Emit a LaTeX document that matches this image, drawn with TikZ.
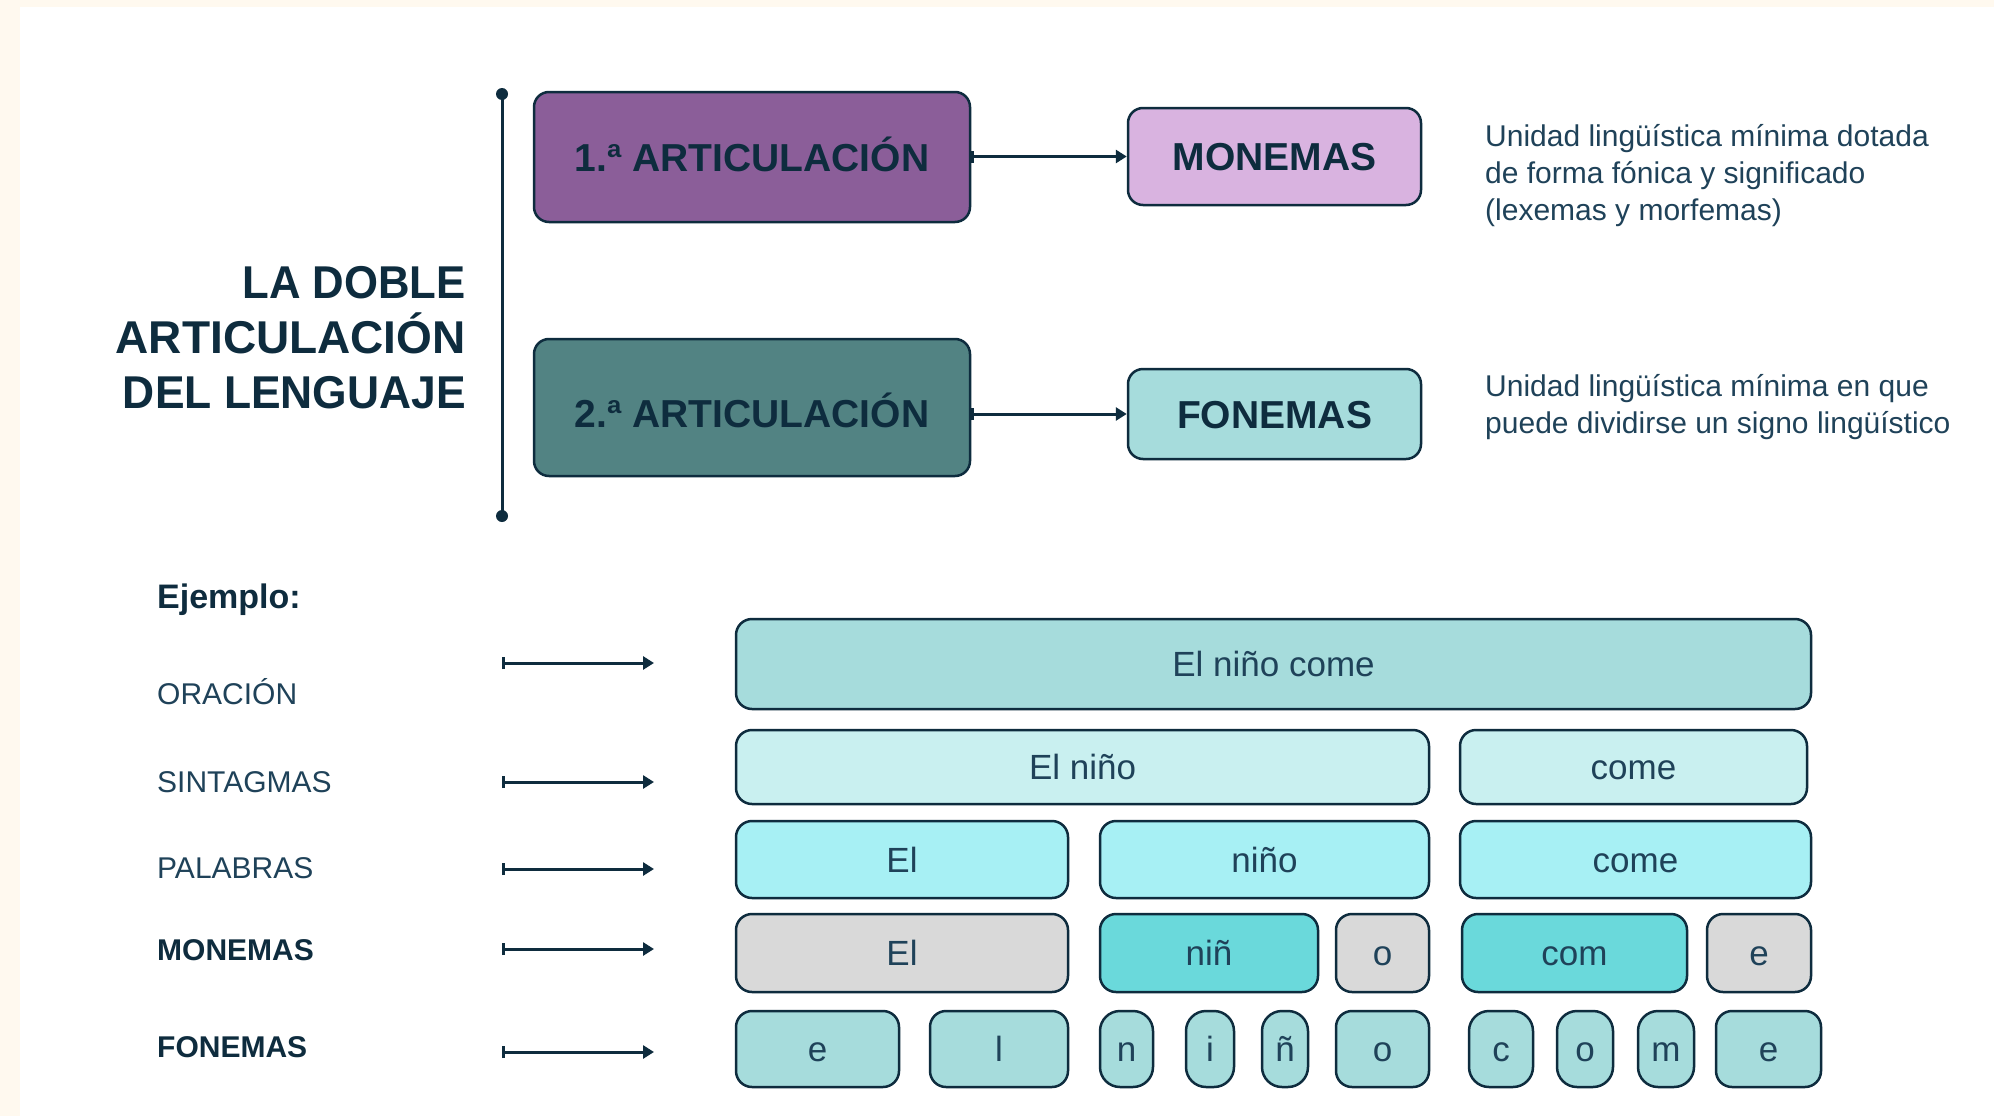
\documentclass[tikz,border=0pt]{standalone}
\usepackage{fontspec}
\usepackage{graphicx}
\setmainfont{Liberation Sans}
\usetikzlibrary{arrows.meta}
\definecolor{cream}{HTML}{FFF9EF}
\definecolor{navy}{HTML}{0E2C3E}
\definecolor{txtc}{HTML}{1F4259}
\definecolor{purp}{HTML}{8B5E99}
\definecolor{lav}{HTML}{D9B3E0}
\definecolor{tealdk}{HTML}{528383}
\definecolor{teallt}{HTML}{A6DCDC}
\definecolor{rowtwo}{HTML}{C9F0F0}
\definecolor{rowthree}{HTML}{A7F0F4}
\definecolor{grayb}{HTML}{D9D9D9}
\definecolor{turq}{HTML}{6AD9DB}
\tikzset{
  blk/.style={draw=navy, line width=2.5pt, rounded corners=16pt, inner sep=0pt,
    text=txtc, font=\fontsize{35}{42}\selectfont, text height=25pt, text depth=0pt},
  head/.style={draw=navy, line width=2.5pt, rounded corners=15pt, inner sep=0pt,
    text=navy, font=\fontsize{39}{46}\bfseries, text height=28pt, text depth=0pt},
  ttl/.style={anchor=base east, inner sep=0pt, text=navy, font=\fontsize{46}{55}\bfseries},
  desc/.style={anchor=base west, inner sep=0pt, text=txtc, font=\fontsize{30}{36}\selectfont},
  lbl/.style={anchor=base west, inner sep=0pt, text=txtc, font=\fontsize{30}{36}\selectfont},
  lblb/.style={lbl, text=navy, font=\fontsize{30}{36}\bfseries},
  conn/.style={draw=navy, line width=3pt, arrows={Bar[width=12pt,line width=2.5pt]-Triangle[length=11pt,width=13pt]}},
}
\begin{document}
\begin{tikzpicture}[x=1pt,y=-1pt]
\useasboundingbox (0,0) rectangle (1994,1116);
\fill[cream] (0,0) rectangle (1994,1116);
\fill[white] (20,7) rectangle (1994,1116);

% title
\node[ttl] (t1) at (466,298) {\scalebox{0.95}[1]{LA DOBLE}};
\node[ttl] (t2) at (466,353) {ARTICULACIÓN};
\node[ttl] (t3) at (466,408) {\scalebox{0.965}[1]{DEL LENGUAJE}};

% vertical bracket
\coordinate (vt) at (502,94);
\coordinate (vb) at (502,516);
\draw[navy, line width=3pt] (vt) -- (vb);
\fill[navy] (vt) circle (6);
\fill[navy] (vb) circle (6);

% heading boxes
\node[head, fill=purp, minimum width=436pt, minimum height=130pt] (A1) at (752,157) {1.ª ARTICULACIÓN};
\node[head, fill=tealdk, minimum width=436pt, minimum height=137pt, text height=40pt] (A2) at (752,407.5) {2.ª ARTICULACIÓN};
\node[head, fill=lav, minimum width=293pt, minimum height=97pt] (M) at (1274.5,156.5) {MONEMAS};
\node[head, fill=teallt, minimum width=293pt, minimum height=90pt] (F) at (1274.5,414) {FONEMAS};

\draw[conn] (A1.east |- M.west) -- (M.west);
\draw[conn] (A2.east |- F.west) -- (F.west);

% descriptions
\node[desc] (d1a) at (1485,146) {Unidad lingüística mínima dotada};
\node[desc] (d1b) at (1485,183) {de forma fónica y significado};
\node[desc] (d1c) at (1485,220) {(lexemas y morfemas)};
\node[desc] (d2a) at (1485,396) {Unidad lingüística mínima en que};
\node[desc] (d2b) at (1485,433) {puede dividirse un signo lingüístico};

% example labels
\node[lblb, font=\fontsize{34}{40}\bfseries] (ej) at (157,608) {Ejemplo:};
\node[lbl] (l1) at (157,704) {ORACIÓN};
\node[lbl] (l2) at (157,792) {SINTAGMAS};
\node[lbl] (l3) at (157,878) {PALABRAS};
\node[lblb] (l4) at (157,960) {MONEMAS};
\node[lblb] (l5) at (157,1057) {FONEMAS};

% left arrows
\foreach \i/\yy in {1/663,2/782,3/869,4/949,5/1052}{
  \coordinate (s\i) at (502,\yy);
  \coordinate (e\i) at (654,\yy);
  \draw[conn] (s\i) -- (e\i);
}

% row 1
\node[blk, fill=teallt, minimum width=1075pt, minimum height=90pt] (r1) at (1273.5,664) {El niño come};
% row 2
\node[blk, fill=rowtwo, minimum width=693pt, minimum height=74pt] (r2a) at (1082.5,767) {El niño};
\node[blk, fill=rowtwo, minimum width=347pt, minimum height=74pt] (r2b) at (1633.5,767) {come};
% row 3
\node[blk, fill=rowthree, minimum width=332pt, minimum height=77pt] (r3a) at (902,859.5) {El};
\node[blk, fill=rowthree, minimum width=329pt, minimum height=77pt] (r3b) at (1264.5,859.5) {niño};
\node[blk, fill=rowthree, minimum width=351pt, minimum height=77pt] (r3c) at (1635.5,859.5) {come};
% row 4
\node[blk, fill=grayb, minimum width=332pt, minimum height=78pt] (r4a) at (902,953) {El};
\node[blk, fill=turq, minimum width=218pt, minimum height=78pt] (r4b) at (1209,953) {niñ};
\node[blk, fill=grayb, minimum width=93pt, minimum height=78pt] (r4c) at (1382.5,953) {o};
\node[blk, fill=turq, minimum width=225pt, minimum height=78pt] (r4d) at (1574.5,953) {com};
\node[blk, fill=grayb, minimum width=104pt, minimum height=78pt] (r4e) at (1759,953) {e};
% row 5
\node[blk, fill=teallt, minimum width=163pt, minimum height=76pt] (r5a) at (817.5,1049) {e};
\node[blk, fill=teallt, minimum width=138pt, minimum height=76pt] (r5b) at (999,1049) {l};
\node[blk, fill=teallt, minimum width=53pt, minimum height=76pt, rounded corners=20pt] (r5c) at (1126.5,1049) {n};
\node[blk, fill=teallt, minimum width=48pt, minimum height=76pt, rounded corners=20pt] (r5d) at (1210,1049) {i};
\node[blk, fill=teallt, minimum width=46pt, minimum height=76pt, rounded corners=20pt] (r5e) at (1285,1049) {ñ};
\node[blk, fill=teallt, minimum width=93pt, minimum height=76pt] (r5f) at (1382.5,1049) {o};
\node[blk, fill=teallt, minimum width=64pt, minimum height=76pt, rounded corners=20pt] (r5g) at (1501,1049) {c};
\node[blk, fill=teallt, minimum width=56pt, minimum height=76pt, rounded corners=20pt] (r5h) at (1585,1049) {o};
\node[blk, fill=teallt, minimum width=56pt, minimum height=76pt, rounded corners=20pt] (r5i) at (1666,1049) {m};
\node[blk, fill=teallt, minimum width=105pt, minimum height=76pt] (r5j) at (1768.5,1049) {e};
\end{tikzpicture}
\end{document}
